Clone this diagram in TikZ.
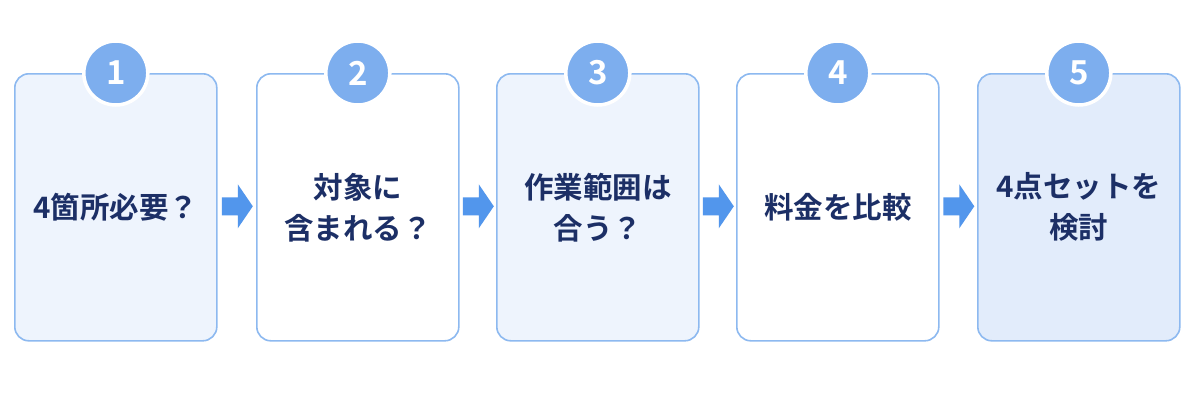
\documentclass[tikz,border=0pt]{standalone}
\usepackage{fontspec}
\newfontfamily\jp{Noto Sans CJK JP}[BoldFont={Noto Sans CJK JP Bold}]
\usetikzlibrary{calc}
\definecolor{bd}{HTML}{8DB9F0}
\definecolor{fa}{HTML}{EEF4FD}
\definecolor{fb}{HTML}{FFFFFF}
\definecolor{fc}{HTML}{E2ECFB}
\definecolor{cf}{HTML}{7DAEEE}
\definecolor{tx}{HTML}{1C2F66}
\definecolor{ar}{HTML}{5296EC}
\begin{document}
\begin{tikzpicture}[x=1pt,y=-1pt,
  box/.style={draw=bd,line width=1.6pt,rounded corners=14pt,minimum width=202pt,minimum height=267pt,anchor=north west,inner sep=0pt},
  lab/.style={font=\jp\bfseries\fontsize{29.5}{41}\selectfont,text=tx,align=center},
  num/.style={circle,fill=cf,draw=white,line width=3.5pt,minimum size=64pt,inner sep=0pt,text=white,font=\jp\bfseries\fontsize{33}{33}\selectfont},
  arr/.style={fill=ar}]
\useasboundingbox[fill=white] (0,0) rectangle (1200,400);
\foreach \i/\x/\f in {1/14/fa,2/256/fb,3/496/fa,4/736/fb,5/977/fc}{
  \node[box,fill=\f] (b\i) at (\x,73) {};
  \node[num] (n\i) at (b\i.north) {\i};
}
\node[lab] (t1) at (b1.center) {4箇所必要？};
\node[lab] (t2) at (b2.center) {対象に\\含まれる？};
\node[lab] (t3) at (b3.center) {作業範囲は\\合う？};
\node[lab] (t4) at (b4.center) {料金を比較};
\node[lab] (t5) at (b5.center) {4点セットを\\検討};
\foreach \a/\b in {1/2,2/3,3/4,4/5}{
  \coordinate (m\a) at ($(b\a.east)!0.5!(b\b.west)+(0,-1)$);
  \fill[arr] ($(m\a)+(-15,-9)$) -- ($(m\a)+(1,-9)$) -- ($(m\a)+(1,-22)$) -- ($(m\a)+(16,0)$)
    -- ($(m\a)+(1,22)$) -- ($(m\a)+(1,9)$) -- ($(m\a)+(-15,9)$) -- cycle;
}
\end{tikzpicture}
\end{document}
